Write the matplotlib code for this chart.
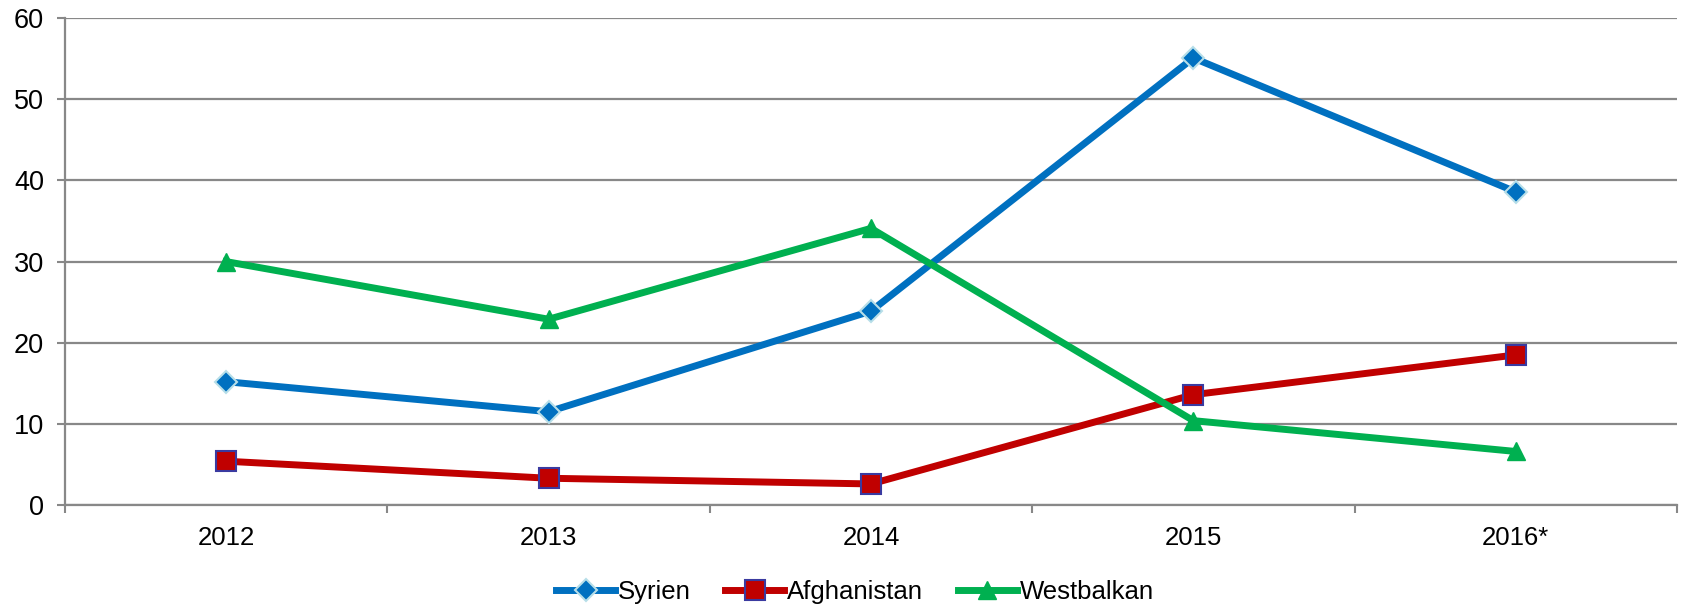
import matplotlib.pyplot as plt
import numpy as np

plt.rcParams['font.family'] = ['Liberation Sans', 'DejaVu Sans']

years = ['2012', '2013', '2014', '2015', '2016*']
syrien = [15.2, 11.5, 23.9, 55.1, 38.6]
afghanistan = [5.4, 3.3, 2.6, 13.6, 18.5]
westbalkan = [30.0, 22.9, 34.1, 10.4, 6.6]

fig = plt.figure(figsize=(16.83, 6.07), dpi=100)
ax = fig.add_axes([0.0386, 0.168, 0.9578, 0.802])

x = np.arange(len(years)) + 0.5

ax.plot(x, syrien, color='#0070C0', lw=5, marker='D', ms=11,
        mfc='#0070C0', mec='#B7DEE8', mew=1.5, label='Syrien', zorder=3)
ax.plot(x, afghanistan, color='#C00000', lw=5, marker='s', ms=14,
        mfc='#C00000', mec='#3A3AA0', mew=1.5, label='Afghanistan', zorder=3)
ax.plot(x, westbalkan, color='#00B050', lw=5, marker='^', ms=13,
        mfc='#00B050', mec='#00B050', label='Westbalkan', zorder=3)

ax.set_xlim(0, len(years))
ax.set_ylim(0, 60)
ax.set_yticks(range(0, 61, 10))
ax.set_xticks(np.arange(len(years) + 1))
ax.set_xticklabels([])
ax.set_xticks(x, minor=True)
ax.set_xticklabels(years, minor=True)
ax.tick_params(axis='x', which='minor', length=0, pad=15, labelsize=18.5)
ax.tick_params(axis='x', which='major', length=6, width=1.5, color='#888888')
ax.tick_params(axis='y', length=6, width=1.5, color='#888888', labelsize=19.5, pad=9)

ax.grid(axis='y', color='#888888', lw=1.6)
ax.set_axisbelow(True)
for s in ['top', 'right']:
    ax.spines[s].set_visible(False)
for s in ['left', 'bottom']:
    ax.spines[s].set_color('#888888')
    ax.spines[s].set_linewidth(1.6)

ax.legend(loc='center', bbox_to_anchor=(0.49, -0.179), ncol=3, frameon=False,
          fontsize=18.5, handlelength=2.3, handletextpad=0.1, columnspacing=1.35)

fig.savefig('out.png', dpi=100)
